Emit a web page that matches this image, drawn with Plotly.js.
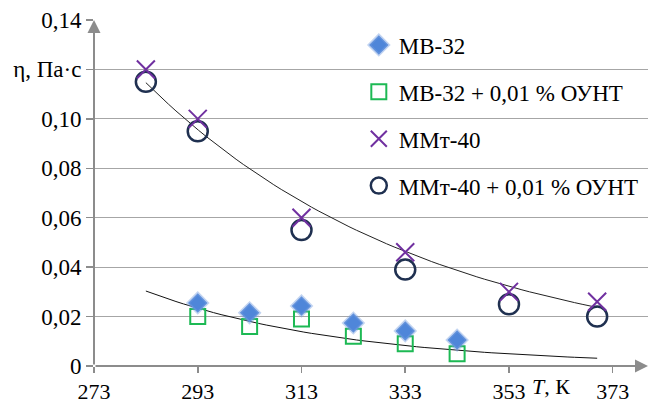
<!DOCTYPE html>
<html>
<head>
<meta charset="utf-8">
<script src="https://cdn.plot.ly/plotly-3.0.1.min.js"></script>
<style>html,body{margin:0;padding:0;background:#fff;}#chart{width:651px;height:403px;}</style>
</head>
<body>
<div id="chart"></div>
<script>
// ---- data ----
var T_mb = [293, 303, 313, 323, 333, 343];
var mb32 = [0.0255, 0.0215, 0.0243, 0.0174, 0.0142, 0.0105];
var mb32_ount = [0.020, 0.016, 0.019, 0.012, 0.009, 0.005];
var T_mm = [283, 293, 313, 333, 353, 370];
var mmt40 = [0.120, 0.100, 0.060, 0.046, 0.030, 0.026];
var mmt40_ount = [0.115, 0.095, 0.055, 0.039, 0.025, 0.020];
var names = ['МВ-32', 'МВ-32 + 0,01 % ОУНТ', 'ММт-40', 'ММт-40 + 0,01 % ОУНТ'];
var yTickVals = [0, 0.02, 0.04, 0.06, 0.08, 0.10, 0.12, 0.14];
var yTickText = ['0', '0,02', '0,04', '0,06', '0,08', '0,10', 'η, Па·с', '0,14'];
var xTickVals = [273, 293, 313, 333, 353, 373];
var xTickText = ['273', '293', '313', '333', '353', '373'];

// exponential (Excel-style) trendline fitted to a series
function expFit(xs, ys) {
  var n = xs.length, mx = 0, my = 0;
  var ly = ys.map(function (v) { return Math.log(v); });
  for (var i = 0; i < n; i++) { mx += xs[i]; my += ly[i]; }
  mx /= n; my /= n;
  var sxx = 0, sxy = 0;
  for (i = 0; i < n; i++) { sxx += (xs[i] - mx) * (xs[i] - mx); sxy += (xs[i] - mx) * (ly[i] - my); }
  var b = sxy / sxx, a = my - b * mx;
  return function (x) { return Math.exp(a + b * x); };
}
function trend(f, x0, x1) {
  var xs = [], ys = [];
  for (var i = 0; i <= 60; i++) { var x = x0 + (x1 - x0) * i / 60; xs.push(x); ys.push(f(x)); }
  return { x: xs, y: ys };
}
var tMin = Math.min.apply(null, T_mm), tMax = Math.max.apply(null, T_mm);
var upT = trend(expFit(T_mm, mmt40), tMin, tMax);
var loT = trend(expFit(T_mb, mb32_ount), tMin, tMax);

var xr = [273, 379.8], yr = [0, 0.14];
var SERIF = 'Liberation Serif';
var axisCol = '#8c8c8c';

var traces = [
  { x: upT.x, y: upT.y, mode: 'lines', line: { color: '#222', width: 1 }, showlegend: false, hoverinfo: 'skip' },
  { x: loT.x, y: loT.y, mode: 'lines', line: { color: '#111', width: 1 }, showlegend: false, hoverinfo: 'skip' },
  { x: T_mb, y: mb32_ount, name: names[1], legendgroup: 'b', legendrank: 2, mode: 'markers',
    marker: { symbol: 'square-open', size: 15, color: '#1db954', line: { width: 2, color: '#00b050' } } },
  { x: T_mb, y: mb32, name: names[0], legendgroup: 'a', legendrank: 1, mode: 'markers',
    marker: { symbol: 'diamond', size: 15, color: '#4f86d9', line: { width: 3, color: 'rgba(120,160,225,0.45)' } } },
  { x: T_mm, y: mmt40_ount, name: names[3], legendgroup: 'd', legendrank: 4, mode: 'markers',
    marker: { symbol: 'circle-open', size: 20, color: '#1f3050', line: { width: 2.5, color: '#1f3050' } } },
  { x: T_mm, y: mmt40, name: names[2], legendgroup: 'c', legendrank: 3, mode: 'markers',
    marker: { symbol: 'x-thin-open', size: 18, color: '#7030a0', line: { width: 2, color: '#7030a0' } } }
];

var layout = {
  width: 651, height: 403,
  margin: { l: 94, r: 3, t: 20, b: 37 },
  paper_bgcolor: '#fff', plot_bgcolor: '#fff',
  font: { family: SERIF, size: 22, color: '#000' },
  showlegend: true,
  legend: { x: 0.478, y: 0.99, xanchor: 'left', yanchor: 'top', bgcolor: 'rgba(0,0,0,0)',
    traceorder: 'grouped', tracegroupgap: 14, font: { family: SERIF, size: 23, color: '#000' } },
  xaxis: { range: xr, tickmode: 'array', tickvals: xTickVals, ticktext: xTickText,
    showgrid: false, zeroline: false, showline: false, ticks: 'outside', ticklen: 6,
    tickcolor: axisCol, tickwidth: 1.5, tickfont: { family: SERIF, size: 22, color: '#000' } },
  yaxis: { range: yr, tickmode: 'array', tickvals: yTickVals, ticktext: yTickText,
    showgrid: true, gridcolor: '#a6a6a6', gridwidth: 1.2, zeroline: false, showline: false,
    ticks: 'outside', ticklen: 7, tickcolor: axisCol, tickwidth: 1.5,
    tickfont: { family: SERIF, size: 23, color: '#000' } },
  annotations: [
    { x: xr[1], y: 0, ax: xr[0], ay: 0, xref: 'x', yref: 'y', axref: 'x', ayref: 'y', text: '',
      showarrow: true, arrowhead: 2, arrowsize: 1.3, arrowwidth: 2, arrowcolor: axisCol },
    { x: xr[0], y: yr[1], ax: xr[0], ay: 0, xref: 'x', yref: 'y', axref: 'x', ayref: 'y', text: '',
      showarrow: true, arrowhead: 2, arrowsize: 1.3, arrowwidth: 2, arrowcolor: axisCol },
    { x: 0.862, y: 0, xref: 'paper', yref: 'paper', yanchor: 'top', yshift: -6, showarrow: false,
      text: '<i>T</i>, К', font: { family: SERIF, size: 22, color: '#000' } }
  ]
};
Plotly.newPlot('chart', traces, layout, { displayModeBar: false, staticPlot: true });
</script>
</body>
</html>
